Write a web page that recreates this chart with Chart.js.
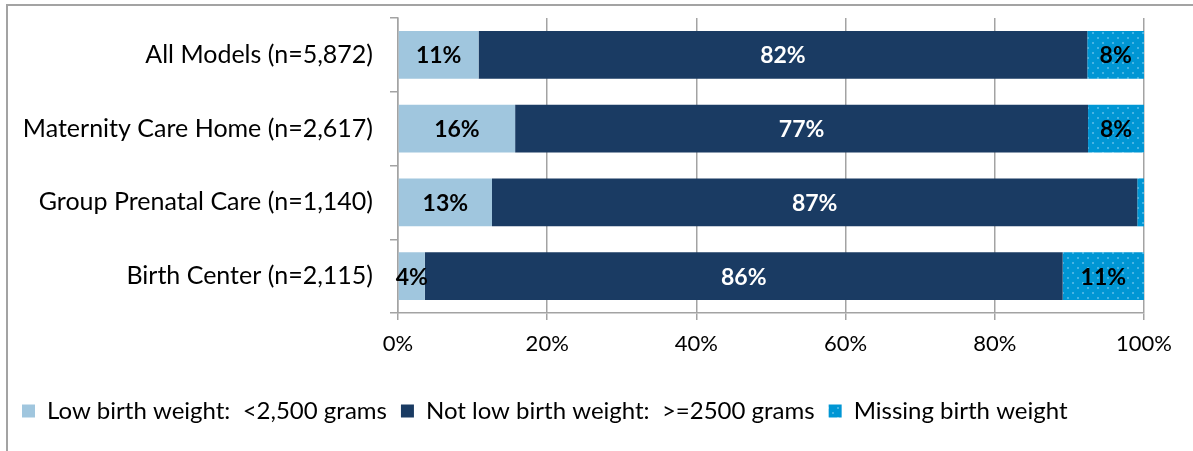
<!DOCTYPE html>
<html>
<head>
<meta charset="utf-8">
<script src="https://cdn.jsdelivr.net/npm/chart.js@4.4.1/dist/chart.umd.min.js"></script>
<style>
  html, body { margin: 0; padding: 0; background: #fff; overflow: hidden; }
  #wrap { position: relative; width: 1193px; height: 451px; }
  #frame {
    position: absolute; left: 6px; top: 4px; width: 1300px; height: 600px;
    border: 2px solid #a3a3a3; box-sizing: border-box;
  }
  #birthChart { position: absolute; left: 0; top: 0; }
</style>
</head>
<body>
<div id="wrap">
  <div id="frame"></div>
  <canvas id="birthChart" width="1193" height="451"></canvas>
</div>
<script>
const FONT = "'Gill Sans MT', 'Gill Sans', Lato, sans-serif";

// Care models
const categories = [
  "All Models (n=5,872)",
  "Maternity Care Home (n=2,617)",
  "Group Prenatal Care (n=1,140)",
  "Birth Center (n=2,115)",
];

// Share of births (%) per model
const lowBirthWeight = [10.8, 15.7, 12.6, 3.6];
const notLowBirthWeight = [81.6, 76.8, 86.5, 85.5];
const missingBirthWeight = [7.6, 7.5, 0.9, 10.9];

const seriesNames = [
  "Low birth weight:  <2,500 grams",
  "Not low birth weight:  >=2500 grams",
  "Missing birth weight",
];

const xTicks = [0, 20, 40, 60, 80, 100];

const ctx = document.getElementById("birthChart").getContext("2d");

// Dotted fill for the missing series
function dotPattern() {
  const c = document.createElement("canvas");
  c.width = 10;
  c.height = 10;
  const g = c.getContext("2d");
  g.fillStyle = "#0096d4";
  g.fillRect(0, 0, 10, 10);
  g.fillStyle = "#46b4e4";
  g.fillRect(2, 2, 2, 2);
  g.fillRect(7, 7, 2, 2);
  return ctx.createPattern(c, "repeat");
}

// Percent labels centred in each segment
const barLabels = {
  id: "barLabels",
  afterDatasetsDraw(chart) {
    const c = chart.ctx;
    c.save();
    c.font = "bold 23px " + FONT;
    c.textAlign = "center";
    c.textBaseline = "middle";
    chart.data.datasets.forEach((ds, i) => {
      const meta = chart.getDatasetMeta(i);
      meta.data.forEach((bar, j) => {
        const v = ds.data[j];
        if (v < 2) return;
        c.fillStyle = i === 1 ? "#ffffff" : "#000000";
        c.fillText(Math.round(v) + "%", (bar.x + bar.base) / 2, bar.y + 1);
      });
    });
    c.restore();
  },
};

const gridColor = "#a3a3a3";

new Chart(ctx, {
  type: "bar",
  data: {
    labels: categories,
    datasets: [
      { label: seriesNames[0], data: lowBirthWeight, backgroundColor: "#a0c6de" },
      { label: seriesNames[1], data: notLowBirthWeight, backgroundColor: "#1a3b63" },
      { label: seriesNames[2], data: missingBirthWeight, backgroundColor: dotPattern() },
    ],
  },
  options: {
    indexAxis: "y",
    responsive: false,
    animation: false,
    datasets: {
      bar: { barPercentage: 0.65, categoryPercentage: 1, borderWidth: 0 },
    },
    layout: { padding: { left: 8, top: 18, right: 49, bottom: 18 } },
    scales: {
      x: {
        stacked: true,
        min: 0,
        max: 100,
        afterBuildTicks: (s) => { s.ticks = xTicks.map((v) => ({ value: v })); },
        afterFit: (s) => { s.height = 72; },
        ticks: {
          callback: (v) => v + "%",
          color: "#000",
          font: { family: FONT, size: 22 },
          padding: 11,
          maxRotation: 0,
        },
        grid: { color: gridColor, lineWidth: 1.5, tickLength: 7 },
        border: { color: gridColor, width: 1.5 },
      },
      y: {
        stacked: true,
        afterFit: (s) => {
          s.width = 390;
          // labels sit mid-band, so no extra room above or below
          s.paddingTop = 0;
          s.paddingBottom = 0;
        },
        ticks: {
          color: "#000",
          font: { family: FONT, size: 25 },
          padding: 17,
        },
        grid: {
          drawOnChartArea: false,
          color: gridColor,
          lineWidth: 1.5,
          tickLength: 8,
        },
        border: { color: gridColor, width: 1.5 },
      },
    },
    plugins: {
      legend: {
        position: "bottom",
        align: "start",
        labels: {
          color: "#000",
          font: { family: FONT, size: 24 },
          boxWidth: 13,
          boxHeight: 13,
          padding: 14,
        },
      },
      tooltip: { enabled: false },
    },
  },
  plugins: [barLabels],
});
</script>
</body>
</html>
